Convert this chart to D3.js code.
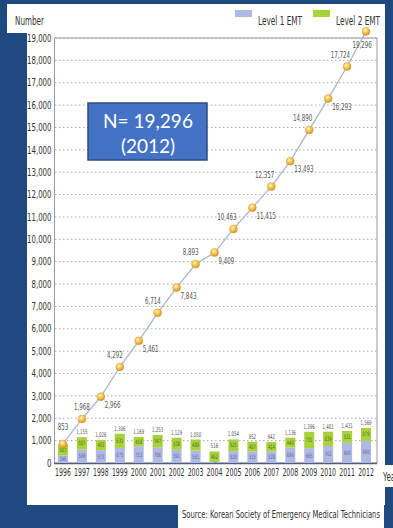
<!DOCTYPE html>
<html><head><meta charset="utf-8">
<script src="https://cdn.jsdelivr.net/npm/d3@7"></script>
<style>
html,body{margin:0;padding:0;background:#1f4a7f;}
svg{display:block;}
text{font-family:"DejaVu Sans",sans-serif;}
</style></head>
<body>
<script>
const years = ["1996","1997","1998","1999","2000","2001","2002","2003","2004","2005","2006","2007","2008","2009","2010","2011","2012"];
const level1 = [346,598,573,675,753,706,591,561,54,529,515,528,696,665,762,900,990];
const level2 = [507,557,453,631,416,547,538,489,462,525,437,414,440,731,639,531,579];
const barTotals = ["","1,155","1,026","1,306","1,169","1,253","1,129","1,050","516","1,054","952","942","1,136","1,396","1,401","1,431","1,569"];
const cumulative = [853,1968,2966,4292,5461,6714,7843,8893,9409,10463,11415,12357,13493,14890,16293,17724,19296];
const yTicks = d3.range(0, 19001, 1000);
const seriesNames = ["Level 1 EMT","Level 2 EMT"];

const W=393,H=528;
const svg=d3.select("body").append("svg").attr("width",W).attr("height",H);
const defs=svg.append("defs");
const rg=defs.append("radialGradient").attr("id","ball").attr("cx","40%").attr("cy","35%").attr("r","65%");
rg.append("stop").attr("offset","0%").attr("stop-color","#fff6c8");
rg.append("stop").attr("offset","55%").attr("stop-color","#f2c24a");
rg.append("stop").attr("offset","100%").attr("stop-color","#d8902a");

function narrow(sel,f){
  sel.each(function(){
    const L=this.getComputedTextLength();
    if(L>0){ d3.select(this).attr("textLength",L*f).attr("lengthAdjust","spacingAndGlyphs"); }
  });
  return sel;
}

// background panels
svg.append("rect").attr("x",0).attr("y",0).attr("width",W).attr("height",H).attr("fill","#1f4a7f");
svg.append("rect").attr("x",27).attr("y",4).attr("width",358).attr("height",501).attr("fill","#ffffff");
svg.append("rect").attr("x",7).attr("y",4).attr("width",22).attr("height",29).attr("fill","#ffffff");
svg.append("rect").attr("x",378).attr("y",465).attr("width",15).attr("height",22).attr("fill","#ffffff");
svg.append("rect").attr("x",178).attr("y",505).attr("width",206).attr("height",23).attr("fill","#ffffff");

const x=d3.scaleBand().domain(years).range([53.5,375.5]).paddingInner(0.47).paddingOuter(0.235);
const y=d3.scaleLinear().domain([0,19000]).range([463,38]);

// gridlines
svg.append("g").selectAll("line").data(yTicks.filter(d=>d>0)).join("line")
  .attr("x1",55).attr("x2",377).attr("y1",d=>y(d)).attr("y2",d=>y(d))
  .attr("stroke","#a9a9a9").attr("stroke-width",1).attr("stroke-dasharray","1.5,2.5");

// frame
svg.append("rect").attr("x",54.5).attr("y",38).attr("width",322.5).attr("height",425)
  .attr("fill","none").attr("stroke","#9a9a9a").attr("stroke-width",1);
svg.append("line").attr("x1",54).attr("x2",377).attr("y1",463.5).attr("y2",463.5).attr("stroke","#4d5e80").attr("stroke-width",1.5);

// y axis
const ya=svg.append("g").attr("transform","translate(54.5,0)")
  .call(d3.axisLeft(y).tickValues(yTicks).tickSize(0).tickPadding(3).tickFormat(d3.format(",")));
ya.select(".domain").remove();
ya.selectAll("text").attr("font-size",10).attr("fill","#333").attr("font-family","DejaVu Sans, sans-serif");
narrow(ya.selectAll("text"),0.7);

// x axis
const xa=svg.append("g").attr("transform","translate(0,463)")
  .call(d3.axisBottom(x).tickSize(0).tickPadding(6));
xa.select(".domain").remove();
xa.selectAll("text").attr("font-size",10).attr("fill","#333").attr("font-family","DejaVu Sans, sans-serif");
narrow(xa.selectAll("text"),0.62);

// stacked bars
const stackData=years.map((yr,i)=>({year:yr,l1:level1[i],l2:level2[i]}));
const stack=d3.stack().keys(["l1","l2"])(stackData);
const colors=["#b0b9e4","#a8d23c"];
const bars=svg.append("g");
stack.forEach((s,k)=>{
  bars.append("g").selectAll("rect").data(s).join("rect")
    .attr("x",d=>x(d.data.year)).attr("width",x.bandwidth())
    .attr("y",d=>y(d[1])).attr("height",d=>y(d[0])-y(d[1]))
    .attr("fill",colors[k]);
  const t=bars.append("g").selectAll("text").data(s).join("text")
    .attr("x",d=>x(d.data.year)+x.bandwidth()/2)
    .attr("y",d=>(y(d[0])+y(d[1]))/2+2)
    .attr("text-anchor","middle").attr("font-size",6)
    .attr("fill",k===0?"#5a6698":"#4f6a1a")
    .text(d=>d[1]-d[0]);
  narrow(t,0.6);
});
const tt=svg.append("g").selectAll("text").data(stackData).join("text")
  .attr("x",d=>x(d.year)+x.bandwidth()/2)
  .attr("y",d=>y(d.l1+d.l2)-3)
  .attr("text-anchor","middle").attr("font-size",6.5).attr("fill","#555")
  .text((d,i)=>barTotals[i]);
narrow(tt,0.6);

// cumulative line
const cx=d=>x(d)+x.bandwidth()/2;
const line=d3.line().x((d,i)=>cx(years[i])).y(d=>y(d));
svg.append("path").datum(cumulative).attr("d",line).attr("fill","none")
  .attr("stroke","#aab6c8").attr("stroke-width",1.3);
svg.append("g").selectAll("circle").data(cumulative).join("circle")
  .attr("cx",(d,i)=>cx(years[i])).attr("cy",d=>y(d)).attr("r",4)
  .attr("fill","url(#ball)").attr("stroke","#d9a040").attr("stroke-width",0.5);
const fmt=d3.format(",");
const above=i=>i%2===1;
const lt=svg.append("g").selectAll("text").data(cumulative).join("text")
  .attr("x",(d,i)=>{const c=cx(years[i]); if(i===16) return c-4; if(i<=1) return c; return above(i)?c+3:c+4;})
  .attr("y",(d,i)=>{const c=y(d); if(i===16) return 48; if(i===0) return c-14; return above(i)?c-9:c+11;})
  .attr("text-anchor",(d,i)=>(i===16||i<=1)?"middle":(above(i)?"end":"start"))
  .attr("font-size",9.5).attr("fill","#555")
  .text(d=>fmt(d));
narrow(lt,0.58);

// N box
svg.append("rect").attr("x",88).attr("y",103).attr("width",119).attr("height",57)
  .attr("fill","#4472c4").attr("stroke","#2c4d86").attr("stroke-width",1.5);
svg.append("text").attr("x",148).attr("y",128).attr("text-anchor","middle")
  .attr("font-size",19).attr("fill","#fff").style("font-family","Lato, 'Open Sans', sans-serif").text("N= 19,296");
svg.append("text").attr("x",148).attr("y",153).attr("text-anchor","middle")
  .attr("font-size",19).attr("fill","#fff").style("font-family","Lato, 'Open Sans', sans-serif").text("(2012)");

// titles
narrow(svg.append("text").attr("x",15).attr("y",25).attr("font-size",12).attr("fill","#333").text("Number"),0.6);
narrow(svg.append("text").attr("x",383).attr("y",481).attr("font-size",11.5).attr("fill","#333").text("Year"),0.62);

// legend
const lg=svg.append("g");
seriesNames.forEach((n,i)=>{
  const lx=[235,313][i];
  lg.append("rect").attr("x",lx).attr("y",10).attr("width",17).attr("height",7).attr("fill",colors[i]);
  narrow(lg.append("text").attr("x",lx+23).attr("y",25).attr("font-size",12).attr("fill","#333").text(n),0.61);
});

// source
svg.append("text").attr("x",182).attr("y",518).attr("font-size",10.5).attr("fill","#333")
  .attr("textLength",198).attr("lengthAdjust","spacingAndGlyphs")
  .text("Source: Korean Society of  Emergency Medical Technicians");
</script>
</body></html>
